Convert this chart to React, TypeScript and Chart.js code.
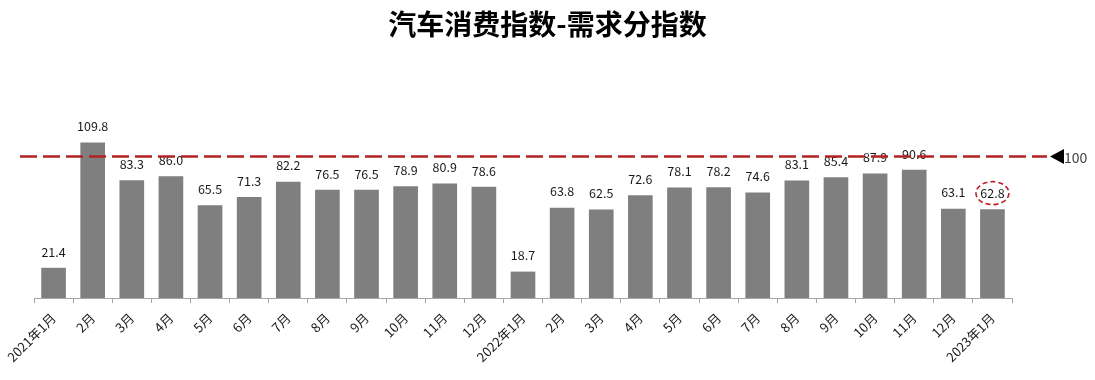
import React, { useEffect, useRef } from "react";
import { Chart, registerables } from "chart.js";

Chart.register(...registerables);

const categories = [
  "2021年1月", "2月", "3月", "4月", "5月", "6月", "7月", "8月", "9月", "10月", "11月", "12月",
  "2022年1月", "2月", "3月", "4月", "5月", "6月", "7月", "8月", "9月", "10月", "11月", "12月",
  "2023年1月",
];
const demandIndex = [
  21.4, 109.8, 83.3, 86.0, 65.5, 71.3, 82.2, 76.5, 76.5, 78.9, 80.9, 78.6,
  18.7, 63.8, 62.5, 72.6, 78.1, 78.2, 74.6, 83.1, 85.4, 87.9, 90.6, 63.1,
  62.8,
];
const referenceValue = 100;
const highlightIndex = 24;
const titleText = "汽车消费指数-需求分指数";

const FONT = "'Noto Sans CJK SC', 'Noto Sans', sans-serif";

const overlayPlugin = {
  id: "overlay",
  afterDraw(chart: any) {
    const ctx = chart.ctx;
    const meta = chart.getDatasetMeta(0);
    ctx.save();
    // title
    ctx.fillStyle = "#000";
    ctx.font = `bold 28px ${FONT}`;
    ctx.textAlign = "center";
    ctx.textBaseline = "middle";
    ctx.fillText(titleText, chart.width / 2, 24);
    // value labels
    ctx.font = `12.5px ${FONT}`;
    ctx.fillStyle = "#1a1a1a";
    meta.data.forEach((bar: any, i: number) => {
      const v = demandIndex[i];
      const yy = bar.y - 16;
      ctx.fillText(v.toFixed(1), bar.x, yy);
      if (i === highlightIndex) {
        ctx.save();
        ctx.strokeStyle = "#c0202a";
        ctx.lineWidth = 1.6;
        ctx.setLineDash([5, 3]);
        ctx.beginPath();
        ctx.ellipse(bar.x, yy, 16.5, 11.5, 0, 0, Math.PI * 2);
        ctx.stroke();
        ctx.restore();
      }
    });
    // reference line
    const y = chart.scales.y.getPixelForValue(referenceValue);
    ctx.strokeStyle = "#b22222";
    ctx.lineWidth = 2.5;
    ctx.setLineDash([17, 6]);
    ctx.beginPath();
    ctx.moveTo(20, y);
    ctx.lineTo(1047, y);
    ctx.stroke();
    ctx.setLineDash([]);
    // arrow
    ctx.fillStyle = "#000";
    ctx.beginPath();
    ctx.moveTo(1050, y);
    ctx.lineTo(1064, y - 7.5);
    ctx.lineTo(1064, y + 7.5);
    ctx.closePath();
    ctx.fill();
    ctx.fillStyle = "#404040";
    ctx.font = `14px ${FONT}`;
    ctx.textAlign = "left";
    ctx.fillText(String(referenceValue), 1064, y + 1);
    ctx.restore();
  },
};

export default function App() {
  const ref = useRef<HTMLCanvasElement | null>(null);
  useEffect(() => {
    if (!ref.current) return;
    const chart = new Chart(ref.current, {
      type: "bar",
      data: {
        labels: categories,
        datasets: [
          {
            data: demandIndex,
            backgroundColor: "#7f7f7f",
            barPercentage: 0.63,
            categoryPercentage: 1,
          },
        ],
      },
      options: {
        responsive: false,
        animation: false,
        devicePixelRatio: 1,
        layout: { padding: { left: 34, right: 83, top: 114, bottom: 8 } },
        plugins: {
          legend: { display: false },
          tooltip: { enabled: false },
          title: { display: false },
        },
        scales: {
          x: {
            offset: true,
            border: { display: true, color: "#a6a6a6", width: 1 },
            grid: {
              display: true,
              offset: true,
              drawOnChartArea: false,
              drawTicks: true,
              tickLength: 5,
              color: "#a6a6a6",
            },
            ticks: {
              autoSkip: false,
              maxRotation: 45,
              minRotation: 45,
              color: "#1a1a1a",
              padding: 7,
              font: { family: FONT, size: 13 },
            },
          },
          y: {
            display: false,
            min: 0,
            max: 130,
          },
        },
      },
      plugins: [overlayPlugin],
    });
    return () => chart.destroy();
  }, []);
  return (
    <div style={{ position: "fixed", left: 0, top: 0, width: 1095, height: 380, background: "#fff" }}>
      <canvas ref={ref} width={1095} height={380} style={{ width: 1095, height: 380 }} />
    </div>
  );
}
